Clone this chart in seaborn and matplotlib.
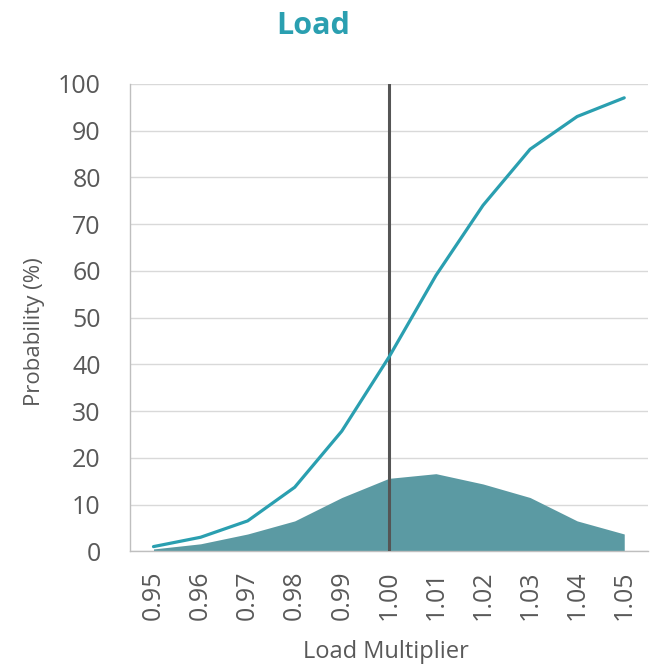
import matplotlib
matplotlib.use("Agg")
import matplotlib.pyplot as plt
import seaborn as sns
import pandas as pd

# Load multiplier categories and probabilities (%)
multipliers = ["0.95", "0.96", "0.97", "0.98", "0.99", "1.00",
               "1.01", "1.02", "1.03", "1.04", "1.05"]
cumulative = [1, 3, 6.5, 13.7, 25.7, 41.5, 59, 74, 86, 93, 97]
density = [0.5, 1.6, 3.7, 6.5, 11.5, 15.6, 16.6, 14.4, 11.5, 6.5, 3.7]
y_ticks = [0, 10, 20, 30, 40, 50, 60, 70, 80, 90, 100]

df = pd.DataFrame({"pos": range(len(multipliers)),
                   "multiplier": multipliers,
                   "cumulative": cumulative,
                   "density": density})

sns.set_theme(style="white")
plt.rcParams["font.family"] = ["Open Sans", "DejaVu Sans"]

TEAL = "#2a9fb0"
AREA = "#5b9aa3"
TEXT = "#595959"
GRID = "#d9d9d9"

fig = plt.figure(figsize=(6.53, 6.65), dpi=100)
ax = fig.add_axes([0.199, 0.171, 0.793, 0.703])

ax.fill_between(df["pos"], 0, df["density"], color=AREA, lw=0, zorder=2)
ax.axvline(multipliers.index("1.00"), ymin=0, ymax=1, color="#555555", lw=2.2, zorder=3)
sns.lineplot(data=df, x="pos", y="cumulative", ax=ax, color=TEAL, lw=2.3, zorder=4)

ax.set_xlim(-0.5, len(multipliers) - 0.5)
ax.set_ylim(0, 100)
ax.set_xticks(df["pos"])
ax.set_xticklabels(multipliers, rotation=90)
ax.set_yticks(y_ticks)
ax.tick_params(axis="both", colors=TEXT, labelsize=18, length=0)
ax.tick_params(axis="y", pad=21)
ax.tick_params(axis="x", pad=14)
ax.grid(axis="y", color=GRID, lw=1)
ax.set_axisbelow(True)

for side in ["top", "right"]:
    ax.spines[side].set_visible(False)
for side in ["left", "bottom"]:
    ax.spines[side].set_color("#bfbfbf")
    ax.spines[side].set_linewidth(1)

ax.set_xlabel("Load Multiplier", color=TEXT, fontsize=17)
ax.set_ylabel("Probability (%)", color=TEXT, fontsize=16)
ax.xaxis.set_label_coords(0.495, -0.19)
ax.yaxis.set_label_coords(-0.164, 0.47)
fig.text(0.48, 0.961, "Load", color=TEAL, fontsize=22, fontweight="bold",
         ha="center", va="center")

fig.savefig("out.png", dpi=100)
